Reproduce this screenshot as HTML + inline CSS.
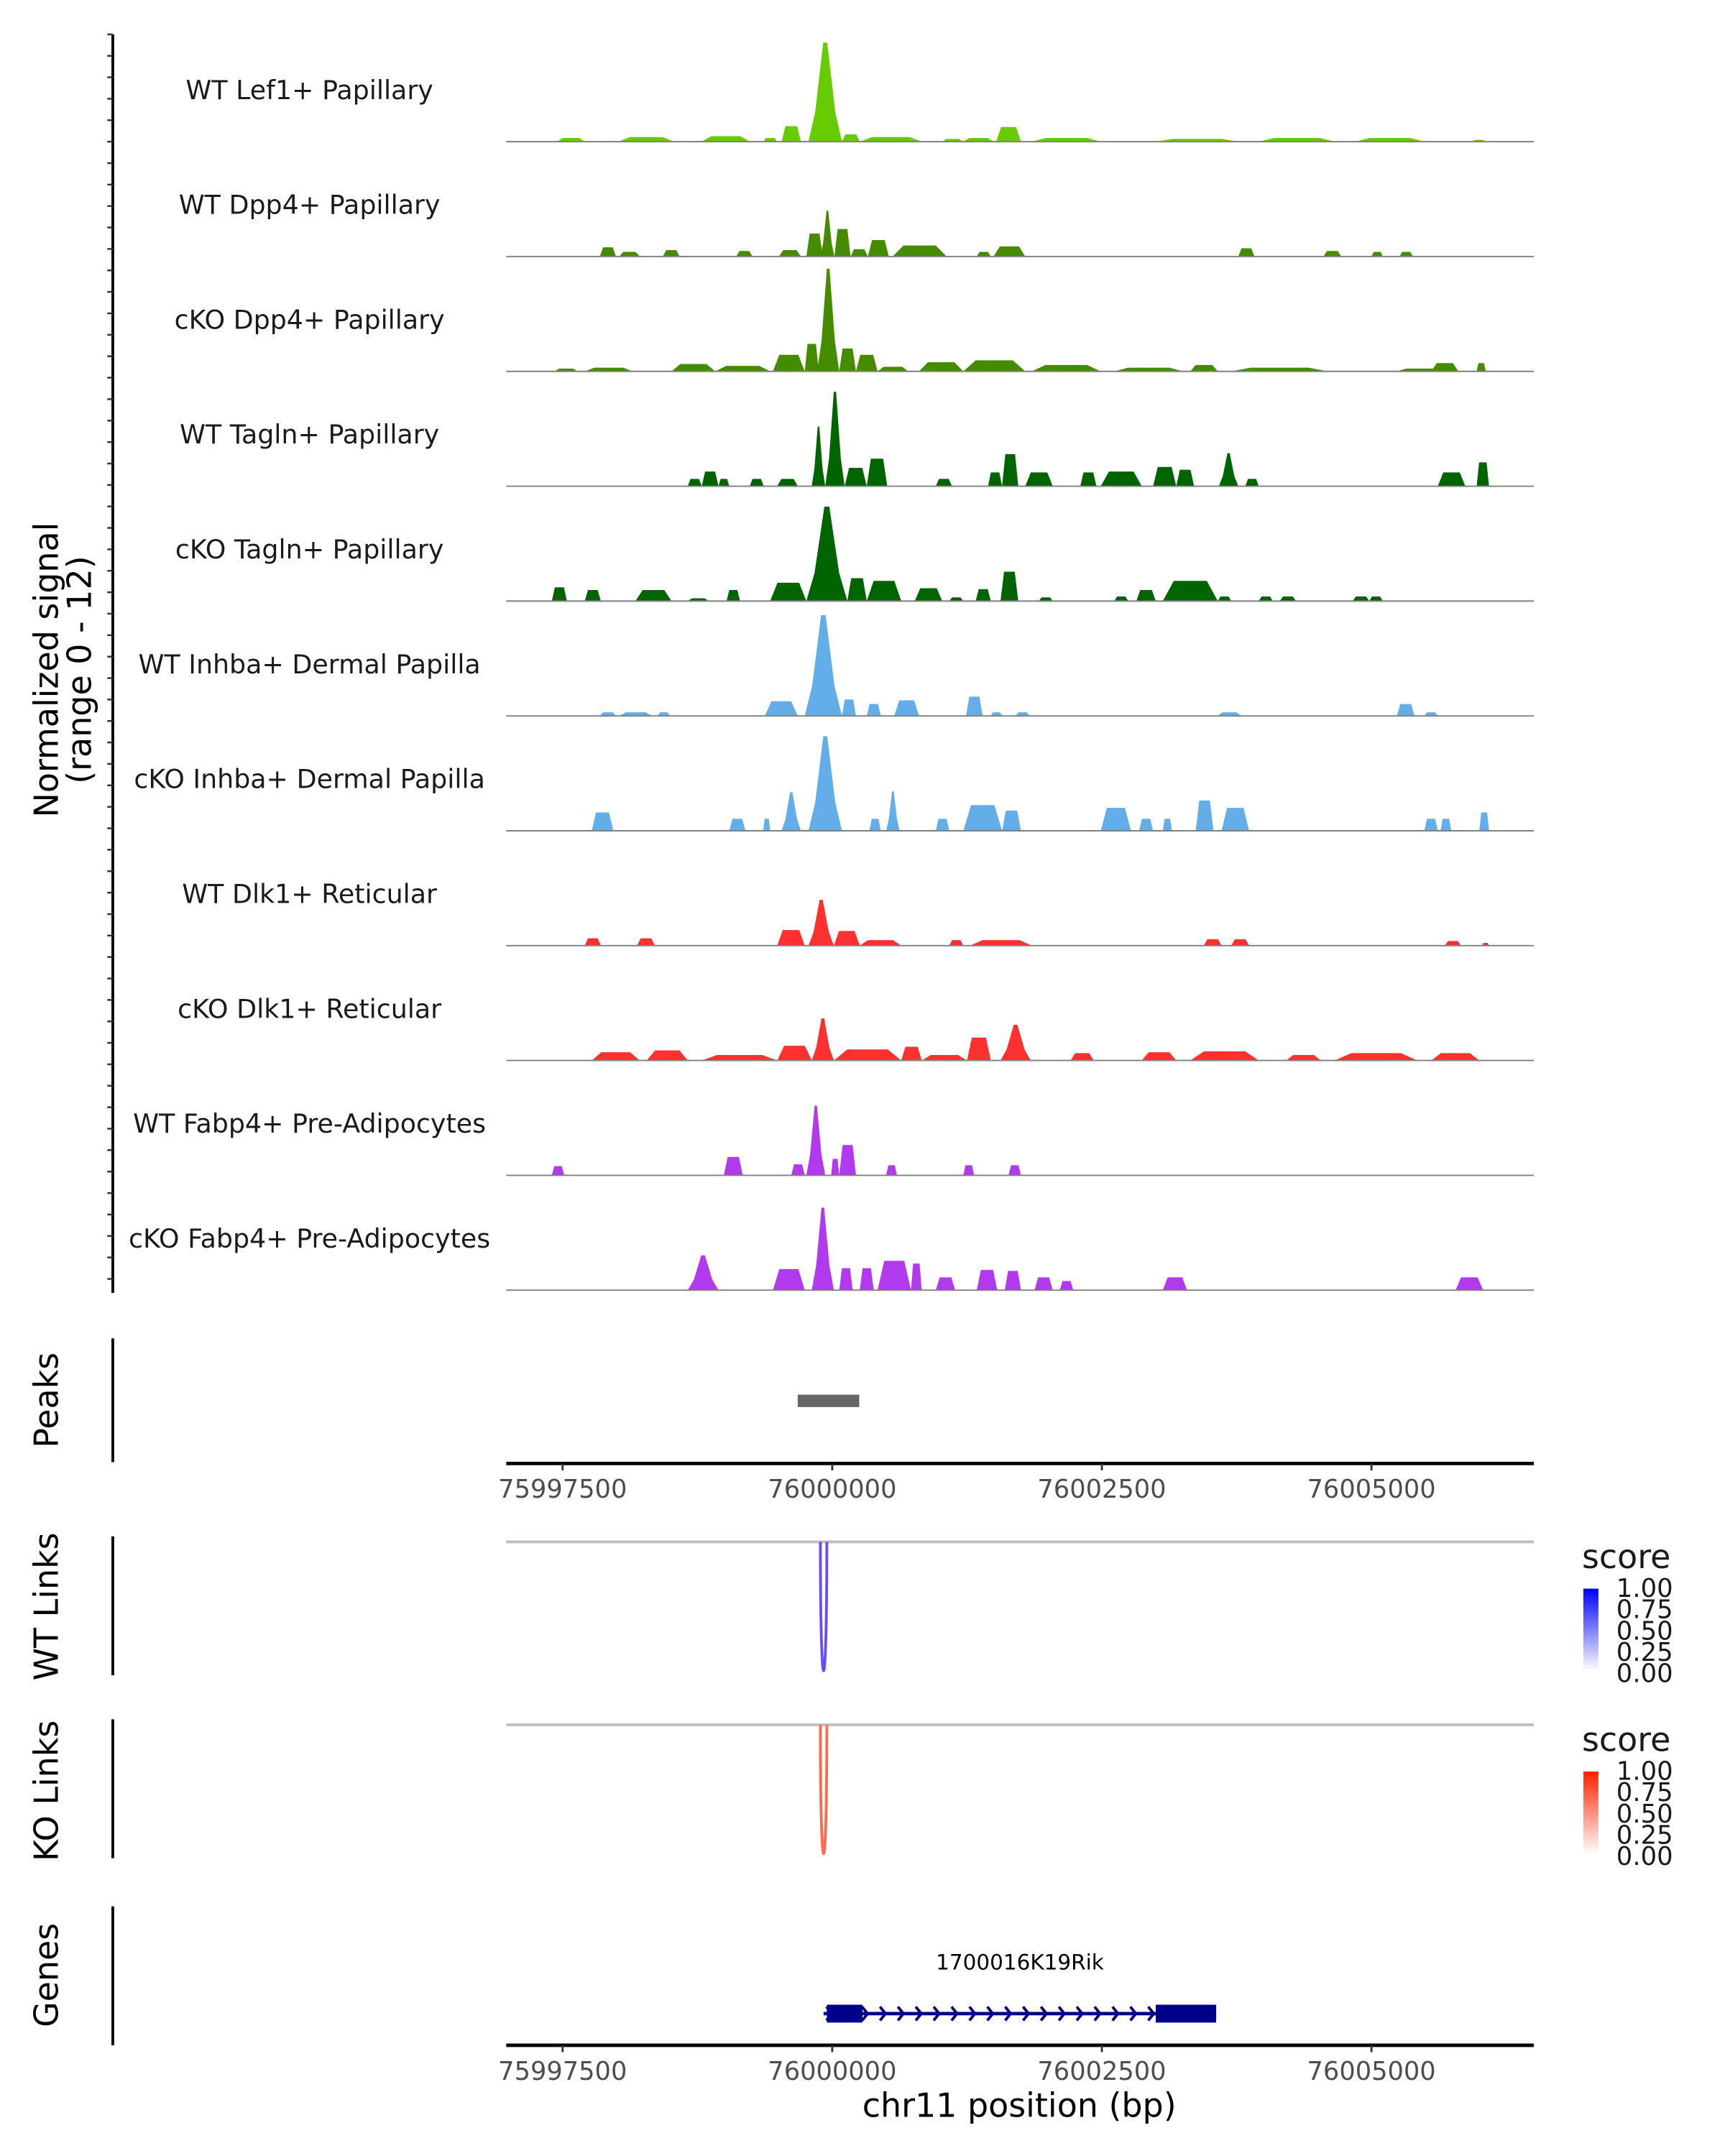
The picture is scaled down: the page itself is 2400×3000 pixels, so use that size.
<!DOCTYPE html>
<html><head><meta charset="utf-8">
<style>
html,body{margin:0;padding:0;background:#fff;}
svg{display:block;}
text{font-family:"DejaVu Sans","Liberation Sans",sans-serif;}
</style></head>
<body>
<svg id="chart" width="2400" height="3000" viewBox="0 0 1254 1567.5" preserveAspectRatio="none" xmlns="http://www.w3.org/2000/svg">
<g id="g"></g>
</svg>
<script>
const trackNames = ["WT Lef1+ Papillary","WT Dpp4+ Papillary","cKO Dpp4+ Papillary","WT Tagln+ Papillary","cKO Tagln+ Papillary","WT Inhba+ Dermal Papilla","cKO Inhba+ Dermal Papilla","WT Dlk1+ Reticular","cKO Dlk1+ Reticular","WT Fabp4+ Pre-Adipocytes","cKO Fabp4+ Pre-Adipocytes"];
const trackColors = ["#66cc00","#458b00","#458b00","#006400","#006400","#63aee8","#63aee8","#ff3030","#ff3030","#b23aee","#b23aee"];
const xTicks = [75997500,76000000,76002500,76005000];
const xTickLabels = ["75997500","76000000","76002500","76005000"];
const yRange = [0,12];
// [start, end, signal]
const sigLef1 = [[75997450,75997705,0.4],[75998020,75998530,0.5],[75998790,75999235,0.6],[75999360,75999490,0.4],[75999530,75999710,1.7],[75999780,76000090,10.8],[76000090,76000255,0.8],[76000255,76000830,0.5],[76001020,76001215,0.3],[76001215,76001495,0.4],[76001520,76001750,1.6],[76001850,76002490,0.4],[76003000,76003765,0.3],[76003955,76004660,0.4],[76004850,76005490,0.4],[76005935,76006060,0.2]];
const sigWTDpp4 = [[75997845,75997995,1.0],[75998025,75998215,0.5],[75998430,75998585,0.7],[75999110,75999260,0.6],[75999505,75999710,0.7],[75999760,75999912,2.5],[75999890,76000020,5.0],[76000020,76000170,3.0],[76000170,76000330,0.8],[76000330,76000525,1.8],[76000560,76001060,1.2],[76001340,76001470,0.5],[76001495,76001790,1.1],[76003765,76003915,0.9],[76004555,76004720,0.6],[76005000,76005105,0.5],[76005260,76005385,0.5]];
const sigKODpp4 = [[75997425,75997640,0.3],[75997705,75998150,0.4],[75998510,75998915,0.8],[75998915,75999425,0.6],[75999450,75999745,1.8],[75999745,75999875,3.0],[75999860,76000065,11.2],[76000065,76000220,2.5],[76000220,76000420,1.8],[76000420,76000705,0.5],[76000805,76001215,1.0],[76001215,76001790,1.2],[76001850,76002490,0.7],[76002615,76003255,0.4],[76003320,76003575,0.7],[76003700,76004595,0.4],[76005235,76005680,0.3],[76005555,76005805,0.9],[76005975,76006060,0.9]];
const sigWTTagln = [[75998660,75998790,0.8],[75998790,75998945,1.6],[75998945,75999045,0.8],[75999235,75999365,0.8],[75999490,75999680,0.8],[75999810,75999935,6.5],[75999935,76000115,10.3],[76000115,76000320,2.0],[76000320,76000510,3.0],[76000960,76001110,0.8],[76001445,76001575,1.5],[76001575,76001725,3.5],[76001790,76002045,1.5],[76002300,76002450,1.5],[76002490,76002870,1.6],[76002975,76003190,2.1],[76003190,76003355,1.8],[76003585,76003765,3.6],[76003830,76003955,0.8],[76005615,76005870,1.5],[76005975,76006090,2.6]];
const sigKOTagln = [[75997400,75997540,1.5],[75997705,75997855,1.2],[75998175,75998510,1.2],[75998660,75998855,0.3],[75999020,75999145,1.2],[75999425,75999760,2.0],[75999760,76000140,10.3],[76000140,76000320,2.5],[76000320,76000640,2.2],[76000765,76001020,1.4],[76001085,76001215,0.4],[76001330,76001470,1.3],[76001560,76001725,3.2],[76001915,76002045,0.4],[76002615,76002745,0.5],[76002820,76003000,1.2],[76003065,76003575,2.2],[76003575,76003700,0.5],[76003955,76004085,0.5],[76004150,76004300,0.5],[76004825,76004980,0.5],[76004980,76005105,0.5]];
const sigWTInhba = [[75997845,75997995,0.4],[75998025,75998330,0.4],[75998380,75998495,0.4],[75999375,75999680,1.6],[75999745,76000090,11.0],[76000090,76000220,1.8],[76000320,76000450,1.3],[76000575,76000805,1.7],[76001240,76001395,2.1],[76001470,76001575,0.4],[76001700,76001830,0.4],[76003575,76003790,0.4],[76005235,76005400,1.3],[76005490,76005615,0.4]];
const sigKOInhba = [[75997770,75997970,2.0],[75999045,75999195,1.3],[75999360,75999425,1.3],[75999530,75999710,4.2],[75999780,76000090,10.3],[76000345,76000450,1.3],[76000500,76000625,4.3],[76000960,76001085,1.3],[76001215,76001575,2.8],[76001575,76001750,2.2],[76002490,76002770,2.5],[76002845,76002975,1.3],[76003065,76003150,1.3],[76003370,76003535,3.3],[76003610,76003865,2.5],[76005490,76005615,1.3],[76005640,76005740,1.3],[76006000,76006090,2.0]];
const sigWTDlk1 = [[75997705,75997855,0.8],[75998190,75998355,0.8],[75999490,75999745,1.7],[75999780,76000015,5.0],[76000015,76000255,1.6],[76000255,76000640,0.6],[76001085,76001215,0.6],[76001280,76001850,0.6],[76003445,76003610,0.7],[76003700,76003865,0.7],[76005680,76005830,0.5],[76006025,76006090,0.3]];
const sigKODlk1 = [[75997770,75998215,0.9],[75998280,75998660,1.1],[75998790,75999490,0.6],[75999490,75999810,1.6],[75999810,76000015,4.6],[76000015,76000640,1.2],[76000640,76000830,1.5],[76000830,76001250,0.6],[76001250,76001470,2.5],[76001560,76001840,3.9],[76002210,76002425,0.8],[76002870,76003190,0.9],[76003320,76003955,1.0],[76004210,76004530,0.6],[76004660,76005425,0.8],[76005555,76006000,0.8]];
const sigWTFabp4 = [[75997400,75997515,1.0],[75998995,75999170,2.0],[75999620,75999745,1.2],[75999760,75999935,7.6],[75999990,76000065,1.8],[76000065,76000220,3.3],[76000500,76000600,1.1],[76001215,76001315,1.1],[76001635,76001750,1.1]];
const sigKOFabp4 = [[75998660,75998945,3.8],[75999450,75999745,2.3],[75999810,76000015,9.0],[76000065,76000190,2.4],[76000255,76000385,2.4],[76000420,76000730,3.2],[76000730,76000830,2.9],[76000960,76001140,1.4],[76001340,76001530,2.2],[76001600,76001750,2.1],[76001875,76002045,1.4],[76002110,76002235,1.0],[76003065,76003290,1.4],[76005780,76006035,1.4]];
const allSignals = [sigLef1,sigWTDpp4,sigKODpp4,sigWTTagln,sigKOTagln,sigWTInhba,sigKOInhba,sigWTDlk1,sigKODlk1,sigWTFabp4,sigKOFabp4];
const peakRegions = [[75999680,76000250]];
const wtLinks = [[75999890,75999950,0.8]];
const koLinks = [[75999890,75999950,0.7]];
const geneStart = 75999920, geneEnd = 76003560;
const geneExons = [[75999950,76000280],[76003000,76003560]];
const geneName = "1700016K19Rik";
const legendTicks = ["1.00","0.75","0.50","0.25","0.00"];

const NS="http://www.w3.org/2000/svg";
const g=document.getElementById('g');
function el(tag,attrs,parent){const e=document.createElementNS(NS,tag);for(const k in attrs)e.setAttribute(k,attrs[k]);(parent||g).appendChild(e);return e;}
const X0=368,X1=1115;
function xs(bp){return 409+(bp-75997500)*196/2500;}
const trackH=80, base0=103, step=83.5;
function ys(v,base){return base-(v-yRange[0])/(yRange[1]-yRange[0])*trackH;}

// left signal axis
let ax=el('line',{x1:82,y1:25,x2:82,y2:940,stroke:'#000','stroke-width':2});


for(let y=25;y<=940;y+=15.6){const t=el('line',{x1:78,y1:y,x2:82,y2:y,stroke:'#333','stroke-width':1.3});

}
let yt=el('text',{transform:'translate(42,487) rotate(-90)','text-anchor':'middle','font-size':24});
yt.textContent='Normalized signal';


let yt2=el('text',{transform:'translate(66,487) rotate(-90)','text-anchor':'middle','font-size':24});
yt2.textContent='(range 0 - 12)';



allSignals.forEach((sig,i)=>{
  const base=base0+i*step;
  const lab=el('text',{x:225,y:base-31,'text-anchor':'middle','font-size':19,fill:'#1a1a1a'});
  lab.textContent=trackNames[i];
  
  
  sig.forEach(f=>{
    const a=xs(f[0]),b=xs(f[1]),w=b-a,top=ys(f[2],base);
    const tall=f[2]>3.5;
    const mid=(a+b)/2;
    const pts = tall
      ? `${a},${base} ${a+w*0.2},${base-(base-top)*0.3} ${mid-w*0.06},${top} ${mid+w*0.06},${top} ${b-w*0.2},${base-(base-top)*0.3} ${b},${base}`
      : `${a},${base} ${a+w*0.2},${top} ${b-w*0.2},${top} ${b},${base}`;
    const p=el('polygon',{points:pts,fill:trackColors[i]});
    
    
  });
  const bl=el('line',{x1:X0,y1:base,x2:X1,y2:base,stroke:'#808080','stroke-width':1});
  
  
});

function panelAxis(y1,y2,label,ly,name){
  const l=el('line',{x1:82,y1:y1,x2:82,y2:y2,stroke:'#000','stroke-width':2});
  
  
  const t=el('text',{transform:`translate(42,${ly}) rotate(-90)`,'text-anchor':'middle','font-size':24});
  t.textContent=label;
  
  
}
function xAxis(y,name){
  const l=el('line',{x1:X0,y1:y,x2:X1,y2:y,stroke:'#000','stroke-width':2.5});
  
  
  xTicks.forEach((t,i)=>{
    const tk=el('line',{x1:xs(t),y1:y,x2:xs(t),y2:y+5,stroke:'#333','stroke-width':1.5});
    
    
    const tl=el('text',{x:xs(t),y:y+25,'text-anchor':'middle','font-size':18.4,fill:'#4d4d4d'});
    tl.textContent=xTickLabels[i];
    
    
  });
}
// Peaks
panelAxis(973,1063,'Peaks',1018,'peaks');
peakRegions.forEach(p=>{
  const r=el('rect',{x:xs(p[0]),y:1014,width:xs(p[1])-xs(p[0]),height:9,fill:'#666'});
  
  
});
xAxis(1064,'peaks-x-axis');

// Links
function linkPanel(top,links,color,gradId,c1,name,label,ly){
  panelAxis(top-4,top+97,label,ly,name);
  const bl=el('line',{x1:X0,y1:top,x2:X1,y2:top,stroke:'#bebebe','stroke-width':2});
  
  
  links.forEach(k=>{
    const a=xs(k[0]),b=xs(k[1]),d=top+125;
    const p=el('path',{d:`M${a},${top} C${a},${d} ${b},${d} ${b},${top}`,fill:'none',stroke:color,'stroke-width':2});
    
    
  });
  const defs=el('defs',{});
  const lg=el('linearGradient',{id:gradId,x1:0,y1:0,x2:0,y2:1},defs);
  el('stop',{offset:'0','stop-color':c1},lg);
  el('stop',{offset:'1','stop-color':'#ffffff'},lg);
  const st=el('text',{x:1150,y:top+19,'font-size':24,fill:'#1a1a1a'});
  st.textContent='score';
  
  
  const cb=el('rect',{x:1151,y:top+34,width:11,height:60,fill:`url(#${gradId})`});
  
  
  legendTicks.forEach((t,i)=>{
    const tx=el('text',{x:1175,y:top+40+i*15.5,'font-size':18.5,fill:'#1a1a1a'});
    tx.textContent=t;
    
    
  });
}
linkPanel(1121,wtLinks,'#6a4cff','gw','#0000ff','wt-links','WT Links',1168);
linkPanel(1254,koLinks,'#ff6a48','gk','#ff2000','ko-links','KO Links',1302);

// Genes
panelAxis(1386,1487,'Genes',1436,'genes');
const gn=el('text',{x:(xs(geneStart)+xs(geneEnd))/2,y:1432,'text-anchor':'middle','font-size':15.4});
gn.textContent=geneName;


const gl=el('line',{x1:xs(geneStart),y1:1464,x2:xs(geneEnd),y2:1464,stroke:'#000080','stroke-width':2.5});


for(let x=xs(geneStart)+2;x<xs(geneEnd)-40;x+=13){
  const c=el('polyline',{points:`${x},${1459} ${x+4},${1464} ${x},${1469}`,fill:'none',stroke:'#000080','stroke-width':2});
  
  
}
geneExons.forEach(e=>{
  const r=el('rect',{x:xs(e[0]),y:1457.5,width:xs(e[1])-xs(e[0]),height:13,fill:'#00008b'});
  
  
});
xAxis(1487,'genes-x-axis');
const xl=el('text',{x:741,y:1539,'text-anchor':'middle','font-size':24,fill:'#000'});
xl.textContent='chr11 position (bp)';


</script>
</body></html>
